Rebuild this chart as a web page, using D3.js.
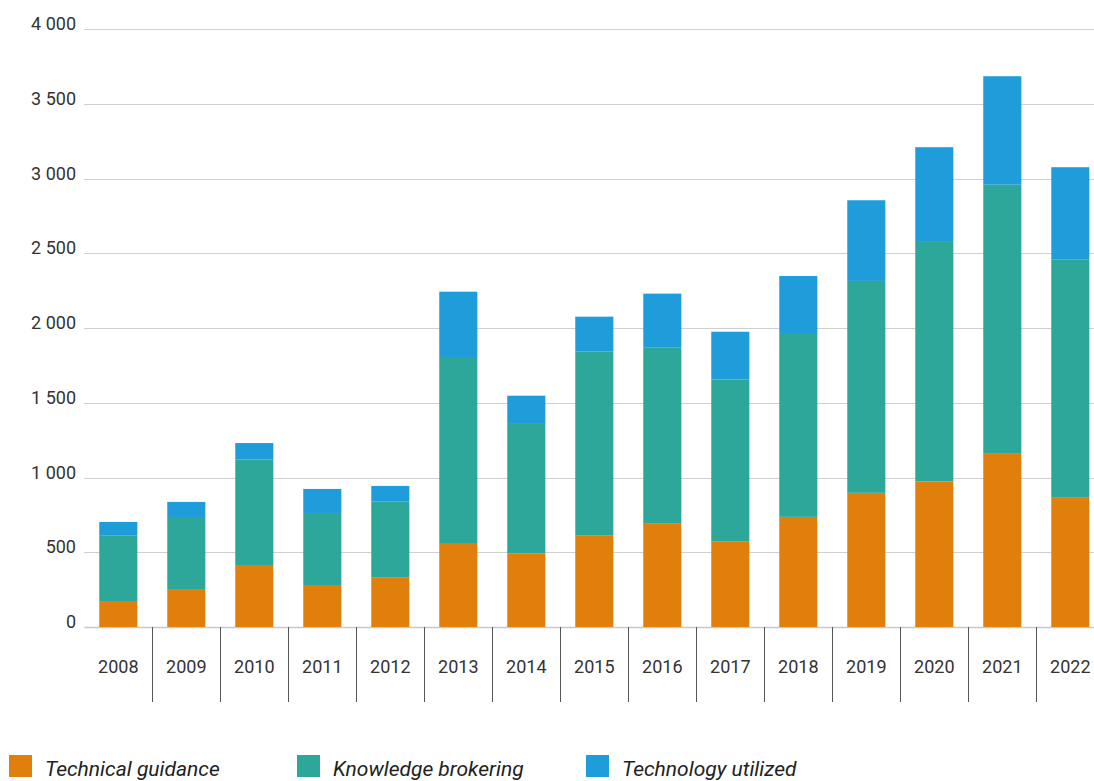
<!DOCTYPE html>
<html>
<head>
<meta charset="utf-8">
<script src="https://cdn.jsdelivr.net/npm/d3@7"></script>
<style>
  html, body { margin: 0; padding: 0; background: #fff; }
  svg { display: block; font-family: Roboto, "Noto Sans", sans-serif; }
</style>
</head>
<body>
<svg id="chart" width="1094" height="781"></svg>
<script>
// Yearly counts, stacked bottom to top
const years = ["2008","2009","2010","2011","2012","2013","2014","2015","2016","2017","2018","2019","2020","2021","2022"];
const technicalGuidance   = [174, 254, 415, 281, 330, 562, 491, 611, 691, 571, 737, 898, 974, 1159, 865];
const knowledgeBrokering  = [440, 482, 705, 482, 509, 1245, 874, 1234, 1178, 1086, 1224, 1418, 1609, 1801, 1593];
const technologyUtilized  = [89, 101, 111, 161, 105, 437, 183, 232, 362, 319, 388, 540, 628, 726, 619];
const seriesNames = ["Technical guidance", "Knowledge brokering", "Technology utilized"];
const seriesColors = ["#e07f0c", "#2ca799", "#1f9dda"];
const yTicks = [0, 500, 1000, 1500, 2000, 2500, 3000, 3500, 4000];

const svg = d3.select("#chart");

const left = 84.3, step = 68;
const x = d3.scaleBand()
  .domain(years)
  .range([left, left + step * years.length])
  .paddingInner(0.44)
  .paddingOuter(0.22);

const y = d3.scaleLinear().domain([0, 4000]).range([627, 29.3]);

const fmt = d3.formatLocale({ decimal: ".", thousands: " ", grouping: [3], currency: ["", ""] }).format(",d");

// Horizontal gridlines
svg.append("g")
  .selectAll("line")
  .data(yTicks)
  .join("line")
  .attr("x1", left)
  .attr("x2", 1094)
  .attr("y1", d => Math.round(y(d)) + 0.5)
  .attr("y2", d => Math.round(y(d)) + 0.5)
  .attr("stroke", d => d === 0 ? "#c8c8c8" : "#cfcfcf")
  .attr("stroke-width", d => d === 0 ? 1.6 : 1.2);

// Y tick labels
svg.append("g")
  .selectAll("text")
  .data(yTicks)
  .join("text")
  .attr("x", 76)
  .attr("y", d => y(d) + 1)
  .attr("text-anchor", "end")
  .attr("font-size", 18)
  .attr("fill", "#333")
  .text(d => fmt(d));

// Stacked bars
const table = years.map((yr, i) => ({
  year: yr,
  "Technical guidance": technicalGuidance[i],
  "Knowledge brokering": knowledgeBrokering[i],
  "Technology utilized": technologyUtilized[i]
}));
const stacked = d3.stack().keys(seriesNames)(table);

svg.append("g")
  .selectAll("g")
  .data(stacked)
  .join("g")
  .attr("fill", (d, i) => seriesColors[i])
  .selectAll("rect")
  .data(d => d)
  .join("rect")
  .attr("x", d => x(d.data.year))
  .attr("width", x.bandwidth())
  .attr("y", d => y(d[1]))
  .attr("height", d => y(d[0]) - y(d[1]));

// Category separators below the baseline
svg.append("g")
  .selectAll("line")
  .data(years.slice(1))
  .join("line")
  .attr("x1", d => Math.round(x(d) - x.step() * x.paddingInner() / 2) + 0.5)
  .attr("x2", d => Math.round(x(d) - x.step() * x.paddingInner() / 2) + 0.5)
  .attr("y1", 627)
  .attr("y2", 702)
  .attr("stroke", "#555")
  .attr("stroke-width", 1);

// X labels
svg.append("g")
  .selectAll("text")
  .data(years)
  .join("text")
  .attr("x", d => x(d) + x.bandwidth() / 2)
  .attr("y", 673)
  .attr("text-anchor", "middle")
  .attr("font-size", 18)
  .attr("fill", "#333")
  .text(d => d);

// Legend
const legendX = [9, 297, 586];
const legend = svg.append("g")
  .selectAll("g")
  .data(seriesNames)
  .join("g")
  .attr("transform", (d, i) => `translate(${legendX[i]},755)`);
legend.append("rect")
  .attr("width", 23)
  .attr("height", 22)
  .attr("fill", (d, i) => seriesColors[i]);
legend.append("text")
  .attr("x", 36)
  .attr("y", 21)
  .attr("font-size", 21)
  .attr("font-style", "italic")
  .attr("fill", "#222")
  .text(d => d);
</script>
</body>
</html>
